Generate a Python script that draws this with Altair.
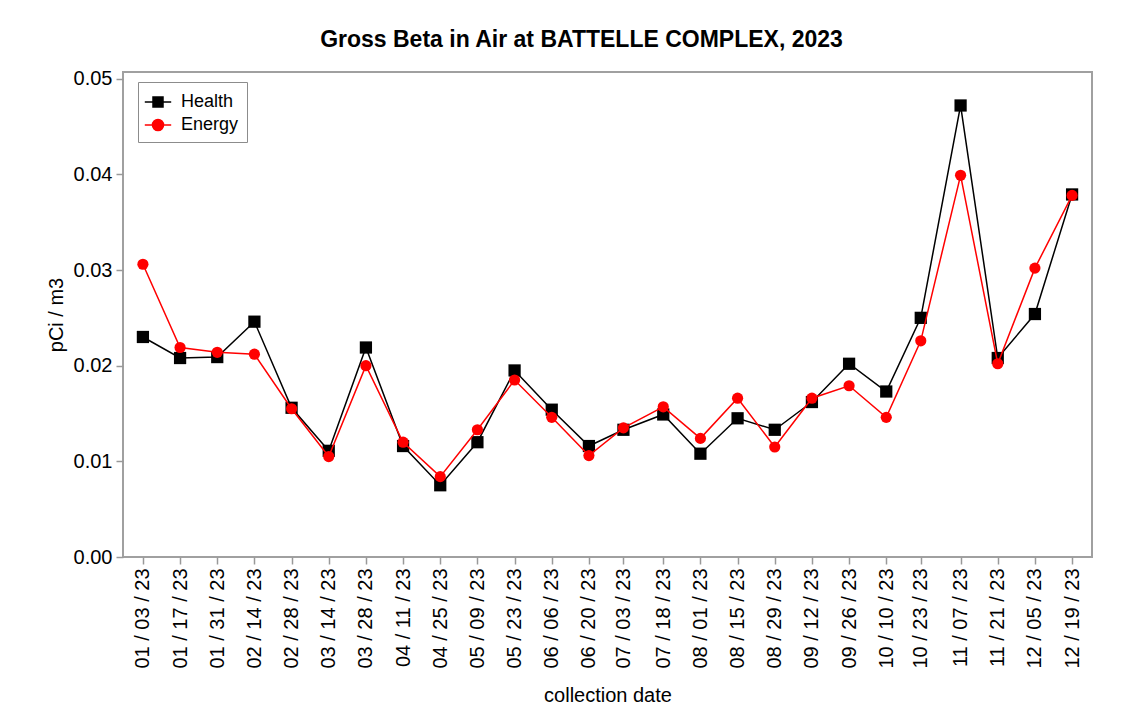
import altair as alt
import pandas as pd

dates = ["2023-01-03", "2023-01-17", "2023-01-31", "2023-02-14", "2023-02-28",
         "2023-03-14", "2023-03-28", "2023-04-11", "2023-04-25", "2023-05-09",
         "2023-05-23", "2023-06-06", "2023-06-20", "2023-07-03", "2023-07-18",
         "2023-08-01", "2023-08-15", "2023-08-29", "2023-09-12", "2023-09-26",
         "2023-10-10", "2023-10-23", "2023-11-07", "2023-11-21", "2023-12-05",
         "2023-12-19"]
health = [0.0230, 0.0208, 0.0209, 0.0246, 0.0156, 0.0111, 0.0219, 0.0116, 0.0075,
          0.0120, 0.0195, 0.0154, 0.0116, 0.0133, 0.0149, 0.0108, 0.0145, 0.0133,
          0.0162, 0.0202, 0.0173, 0.0250, 0.0472, 0.0208, 0.0254, 0.0379]
energy = [0.0306, 0.0219, 0.0214, 0.0212, 0.0155, 0.0105, 0.0200, 0.0120, 0.0084,
          0.0133, 0.0185, 0.0146, 0.0106, 0.0135, 0.0157, 0.0124, 0.0166, 0.0115,
          0.0166, 0.0179, 0.0146, 0.0226, 0.0399, 0.0202, 0.0302, 0.0378]
series_names = ["Health", "Energy"]
series_colors = ["#000000", "#ff0000"]
y_ticks = [0.0, 0.01, 0.02, 0.03, 0.04, 0.05]

FONT = "Liberation Sans"

rows = []
for d, h, e in zip(dates, health, energy):
    rows.append({"date": d + "T00:00:00", "series": "Health", "value": h})
    rows.append({"date": d + "T00:00:00", "series": "Energy", "value": e})
df = pd.DataFrame(rows)


def to_dt(s, hours=0):
    y, m, d = (int(p) for p in s.split("-"))
    return alt.DateTime(year=y, month=m, date=d, hours=hours)


tick_values = [to_dt(d) for d in dates]
x_domain = [to_dt("2022-12-26", 12), to_dt("2023-12-26", 12)]

x_enc = alt.X(
    "date:T",
    scale=alt.Scale(domain=x_domain, nice=False),
    axis=alt.Axis(values=tick_values, format="%m / %d / %y", labelAngle=270,
                  title="collection date", labelPadding=4, titlePadding=17),
)
y_enc = alt.Y(
    "value:Q",
    scale=alt.Scale(domain=[0, 0.0507], nice=False, zero=True),
    axis=alt.Axis(values=y_ticks, format=".2f", title="pCi / m3",
                  labelPadding=4, titlePadding=7),
)

base = alt.Chart(df).encode(x=x_enc, y=y_enc)

h_line = base.transform_filter("datum.series == 'Health'").mark_line(
    color=series_colors[0], strokeWidth=1.5)
h_pts = base.transform_filter("datum.series == 'Health'").mark_point(
    shape="square", filled=True, color=series_colors[0], size=150, opacity=1)
e_line = base.transform_filter("datum.series == 'Energy'").mark_line(
    color=series_colors[1], strokeWidth=1.5)
e_pts = base.transform_filter("datum.series == 'Energy'").mark_point(
    shape="circle", filled=True, color=series_colors[1], size=125, opacity=1)

sq_path = "M-1.2,0H1.2M-0.45,-0.45H0.45V0.45H-0.45Z"
circ_path = "M-1.2,0H1.2M-0.5,0A0.5,0.5 0 1,0 0.5,0A0.5,0.5 0 1,0 -0.5,0Z"

leg = alt.Legend(title=None, orient="none", legendX=15, legendY=10,
                 padding=8, strokeColor="#8c8c8c", fillColor="white",
                 labelFont=FONT, labelFontSize=18, labelColor="#000",
                 symbolSize=484, symbolStrokeWidth=1.6, symbolOpacity=1,
                 labelOffset=11, rowPadding=2)

legend_layer = base.mark_point(filled=True, opacity=0, size=10).encode(
    fill=alt.Fill("series:N", scale=alt.Scale(domain=series_names, range=series_colors), legend=leg),
    stroke=alt.Stroke("series:N", scale=alt.Scale(domain=series_names, range=series_colors), legend=leg),
    shape=alt.Shape("series:N", scale=alt.Scale(domain=series_names, range=[sq_path, circ_path]), legend=leg),
)

chart = alt.layer(h_line, h_pts, e_line, e_pts, legend_layer).properties(
    width=969,
    height=485,
    autosize=alt.AutoSizeParams(type="none"),
    padding={"left": 115, "top": 64, "right": 30, "bottom": 152},
    title=alt.TitleParams("Gross Beta in Air at BATTELLE COMPLEX, 2023",
                          font=FONT, fontSize=23, fontWeight="bold",
                          color="#000", anchor="middle", dx=-26, offset=17),
    background="white",
).configure_view(
    stroke="#a0a0a0", strokeWidth=2
).configure_axis(
    domain=False, grid=False, tickColor="#999999", tickSize=7, tickWidth=1.5,
    labelFont=FONT, labelFontSize=20, labelColor="#000",
    titleFont=FONT, titleFontSize=20, titleFontWeight="normal", titleColor="#000",
)

chart.save("out.html", embed_options={"renderer": "svg", "actions": False})
